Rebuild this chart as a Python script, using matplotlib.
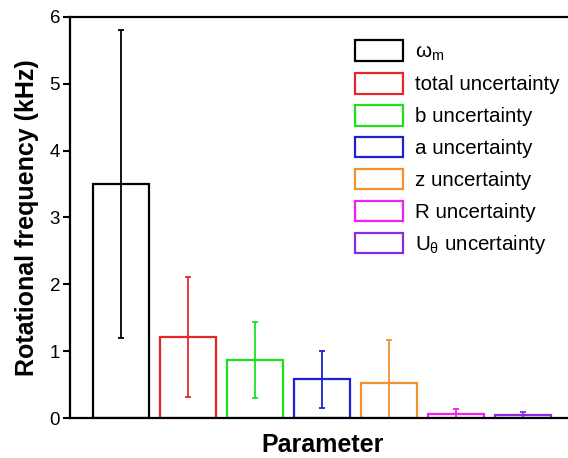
import numpy as np
import matplotlib
matplotlib.use('Agg')
import matplotlib.pyplot as plt
from matplotlib.patches import Patch

plt.rcParams['font.family'] = ['Liberation Sans', 'DejaVu Sans']
plt.rcParams['mathtext.fontset'] = 'custom'
plt.rcParams['mathtext.rm'] = 'Liberation Sans'
plt.rcParams['mathtext.it'] = 'Liberation Sans'

# values
labels = [r'$\omega_{\rm m}$', 'total uncertainty', 'b uncertainty', 'a uncertainty',
          'z uncertainty', 'R uncertainty', r'$\rm U_{\theta}$ uncertainty']
values = [3.50, 1.21, 0.87, 0.58, 0.53, 0.065, 0.045]
errors = [2.30, 0.90, 0.57, 0.43, 0.64, 0.065, 0.05]
colors = ['#000000', '#e8262a', '#1fe01f', '#2020d0', '#f59030', '#f020f0', '#8a2be2']

fig = plt.figure(figsize=(5.68, 4.58), dpi=100)
ax = fig.add_axes([0.123, 0.0873, 0.877, 0.8757])

x = np.arange(1, len(values) + 1)
for xi, v, e, c in zip(x, values, errors, colors):
    ax.bar(xi, v, width=0.84, facecolor='none', edgecolor=c, linewidth=1.6)
    ax.errorbar(xi, v, yerr=e, color=c, elinewidth=1.3, capsize=2, capthick=1.3)

ax.set_xlim(0.24, 7.67)
ax.set_ylim(0, 6)
ax.set_xticks([])
ax.set_yticks(range(7))
ax.tick_params(axis='y', direction='out', length=5, width=1.5, labelsize=13.5, pad=2)
for s in ['left', 'bottom', 'top']:
    ax.spines[s].set_linewidth(1.6)
ax.spines['right'].set_visible(False)

ax.set_ylabel('Rotational frequency (kHz)', fontsize=18, fontweight='bold', labelpad=8)
ax.set_xlabel('Parameter', fontsize=18, fontweight='bold')
ax.xaxis.set_label_coords(0.508, -0.085, transform=ax.transAxes)
ax.xaxis.label.set_va('baseline')

handles = [Patch(facecolor='none', edgecolor=c, linewidth=1.6) for c in colors]
ax.legend(handles, labels, loc='upper left', bbox_to_anchor=(0.544, 0.978), frameon=False,
          fontsize=14.8, handlelength=2.3, handleheight=1.15, labelspacing=0.52,
          handletextpad=0.6, borderpad=0.2)

fig.savefig('out.png', dpi=100)
